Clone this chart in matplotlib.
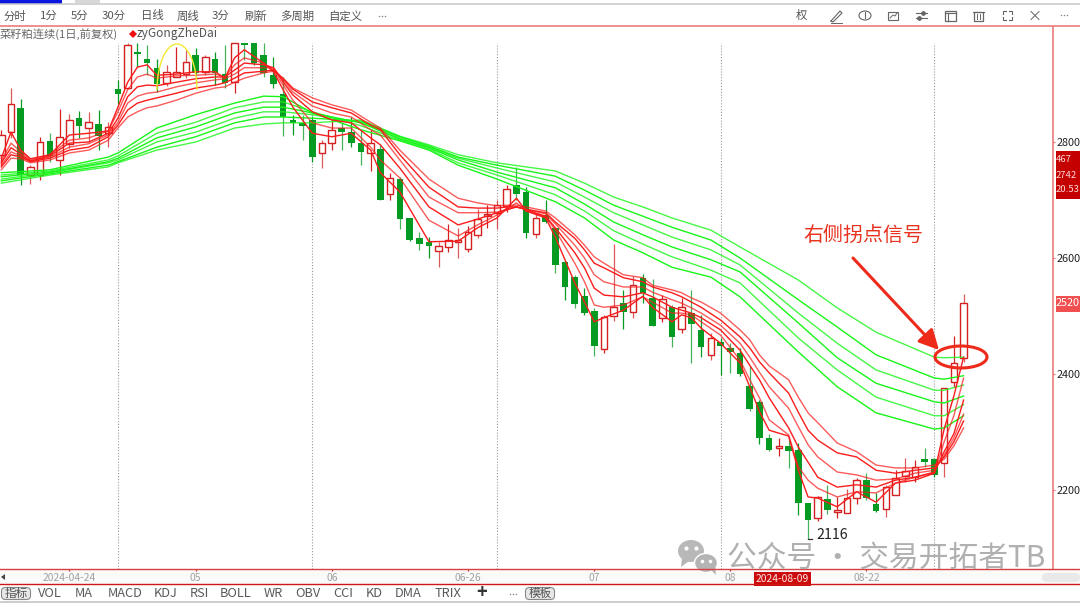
import matplotlib
matplotlib.use('Agg')
import matplotlib.pyplot as plt
from matplotlib.patches import Ellipse, Arc, Rectangle, FancyBboxPatch, Polygon

plt.rcParams['font.family'] = ['Noto Sans CJK SC', 'DejaVu Sans']

# daily candles
opens = [2778,2817,2859,2743,2743,2802,2769,2797,2841,2824,2831,2815,2891,2893,2955,2943,2928,2902,2912,2917,
         2950,2921,2943,2917,2903,2971,2971,2950,2915,2883,2838,2833,2838,2781,2798,2824,2817,2798,2781,2788,
         2710,2736,2669,2634,2628,2612,2619,2628,2615,2640,2672,2678,2690,2726,2714,2641,2674,2652,2593,2567,
         2534,2509,2443,2500,2522,2507,2566,2531,2497,2515,2478,2505,2476,2433,2455,2445,2436,2379,2352,2290,
         2272,2276,2269,2178,2152,2184,2162,2160,2186,2217,2176,2167,2191,2224,2222,2253,2253,2246,2386,2428]
closes = [2812,2866,2743,2757,2800,2776,2809,2838,2828,2834,2810,2826,2883,2967,2952,2936,2900,2921,2921,2938,
          2919,2947,2919,2902,2971,2967,2936,2919,2900,2843,2833,2828,2774,2798,2821,2817,2798,2783,2798,2700,
          2738,2667,2631,2624,2621,2621,2631,2631,2645,2667,2676,2691,2719,2710,2643,2669,2662,2588,2550,2521,
          2505,2448,2498,2516,2507,2553,2540,2483,2529,2464,2515,2486,2447,2462,2448,2438,2400,2340,2290,2269,
          2276,2267,2178,2148,2188,2165,2165,2186,2217,2186,2164,2205,2221,2233,2240,2248,2226,2376,2419,2522]
highs = [2821,2893,2874,2760,2809,2815,2857,2848,2853,2852,2855,2834,2907,2971,2971,2967,2943,2933,2964,2959,
         2962,2950,2955,2967,2971,2971,2971,2971,2947,2912,2847,2847,2845,2803,2838,2834,2843,2821,2821,2795,
         2747,2740,2669,2645,2636,2628,2659,2652,2655,2684,2691,2700,2726,2757,2722,2678,2700,2652,2597,2571,
         2548,2514,2502,2624,2545,2569,2572,2564,2536,2519,2531,2545,2502,2471,2462,2453,2445,2414,2355,2297,
         2290,2286,2281,2178,2190,2209,2188,2202,2221,2229,2195,2209,2234,2255,2252,2272,2255,2376,2466,2538]
lows = [2760,2807,2726,2728,2734,2766,2743,2790,2807,2800,2786,2791,2866,2891,2929,2915,2886,2897,2912,2910,
        2902,2915,2898,2893,2884,2941,2933,2912,2893,2810,2812,2803,2766,2755,2786,2786,2791,2760,2750,2700,
        2700,2650,2629,2614,2600,2584,2610,2600,2610,2634,2652,2650,2679,2700,2634,2634,2660,2574,2528,2514,
        2502,2431,2436,2491,2477,2497,2522,2483,2490,2447,2471,2419,2429,2424,2398,2402,2397,2336,2279,2267,
        2259,2238,2157,2116,2147,2159,2152,2160,2176,2183,2162,2153,2191,2214,2214,2240,2222,2222,2378,2421]

# short band, read at these candle numbers
red_idx = [0,1,2,3,5,7,9,11,12,13,14,15,16,18,20,22,23,24,25,27,28,29,30,32,34,36,38,39,41,44,
           47,49,51,52,53,54,56,57,59,60,61,62,64,66,67,69,70,71,72,74,76,77,78,79,81,82,83,84,86,88,
           90,92,94,96,97,98,99]
red1 = [2772,2817,2786,2771,2778,2812,2815,2819,2860,2903,2929,2933,2915,2917,2921,2921,2910,2945,2959,2936,
        2921,2890,2860,2815,2809,2815,2786,2747,2714,2628,2629,2652,2669,2686,2703,2681,2669,2636,2557,2524,
        2490,2497,2510,2534,2515,2490,2502,2497,2479,2453,2419,2378,2335,2303,2293,2234,2188,2186,2171,2197,
        2179,2212,2217,2229,2305,2362,2429]
red2 = [2767,2798,2783,2769,2778,2803,2807,2819,2852,2890,2912,2917,2910,2914,2915,2917,2912,2933,2945,2936,
        2924,2898,2872,2833,2824,2824,2791,2769,2738,2665,2638,2657,2674,2683,2695,2681,2671,2648,2591,2559,
        2519,2515,2519,2533,2524,2505,2505,2502,2490,2467,2424,2390,2359,2321,2295,2240,2217,2203,2188,2197,
        2195,2212,2222,2229,2283,2328,2393]
red3 = [2764,2790,2779,2767,2776,2798,2800,2815,2841,2878,2895,2898,2897,2903,2909,2912,2912,2924,2936,2933,
        2928,2903,2881,2852,2838,2833,2807,2795,2755,2688,2657,2667,2678,2683,2688,2683,2672,2652,2609,2583,
        2548,2536,2533,2540,2533,2515,2510,2505,2497,2476,2441,2415,2390,2359,2307,2274,2248,2222,2205,2209,
        2205,2217,2222,2231,2266,2297,2355]
red4 = [2760,2783,2776,2767,2774,2791,2797,2812,2834,2867,2879,2884,2886,2895,2902,2907,2909,2917,2928,2928,
        2928,2907,2886,2862,2850,2843,2821,2812,2769,2705,2678,2678,2679,2684,2688,2684,2676,2659,2622,2600,
        2571,2559,2550,2550,2541,2528,2522,2514,2505,2484,2453,2429,2403,2378,2341,2309,2278,2257,2231,2226,
        2217,2219,2229,2234,2260,2290,2331]
red5 = [2757,2778,2774,2766,2772,2786,2791,2809,2829,2855,2867,2872,2876,2884,2893,2898,2902,2910,2919,2922,
        2924,2909,2891,2869,2859,2850,2829,2821,2778,2722,2688,2686,2686,2688,2688,2684,2678,2662,2634,2614,
        2591,2583,2566,2559,2550,2540,2533,2524,2515,2493,2464,2445,2421,2402,2367,2334,2303,2286,2264,2257,
        2234,2229,2234,2238,2257,2283,2319]
red6 = [2752,2772,2771,2764,2769,2781,2786,2803,2824,2843,2852,2859,2862,2872,2884,2893,2895,2903,2910,2919,
        2922,2910,2893,2876,2864,2855,2834,2824,2786,2736,2703,2695,2690,2691,2691,2688,2681,2669,2640,2622,
        2602,2591,2571,2566,2553,2545,2540,2531,2524,2505,2476,2459,2433,2414,2390,2360,2333,2316,2281,2266,
        2243,2238,2238,2243,2253,2276,2307]

# long band
green_idx = [0,5,11,12,16,20,24,27,29,32,37,41,44,47,51,57,60,63,66,69,73,76,82,86,90,96,97,99]
green1 = [2747,2752,2774,2781,2824,2847,2867,2879,2878,2850,2821,2802,2786,2760,2736,2697,2669,2631,2609,2584,2567,2533,2438,2378,2333,2305,2307,2328]
green2 = [2743,2750,2769,2776,2815,2834,2859,2869,2869,2852,2828,2803,2788,2764,2743,2709,2681,2647,2624,2602,2579,2557,2462,2407,2360,2328,2328,2347]
green3 = [2740,2748,2766,2772,2807,2826,2850,2860,2860,2850,2833,2805,2790,2769,2748,2721,2693,2662,2640,2619,2597,2576,2488,2428,2384,2352,2350,2362]
green4 = [2736,2747,2764,2769,2800,2817,2841,2852,2852,2847,2834,2807,2791,2772,2755,2731,2705,2678,2657,2636,2614,2588,2505,2453,2407,2372,2372,2381]
green5 = [2733,2745,2760,2766,2791,2809,2833,2843,2843,2841,2836,2809,2793,2774,2760,2741,2717,2691,2672,2653,2631,2600,2528,2481,2433,2393,2391,2397]
green6 = [2729,2743,2757,2764,2786,2800,2824,2831,2833,2833,2838,2810,2795,2778,2764,2750,2729,2705,2688,2669,2648,2619,2562,2514,2472,2429,2428,2429]

y_ticks = [2200, 2400, 2600, 2800]
x_ticks = [7, 20, 34, 48, 61, 75, 89]
x_labels = ['2024-04-24', '05', '06', '06-26', '07', '08', '08-22']
month_lines = [12, 32, 51, 74, 96]
low_idx = 83
low_val = 2116
last_close = 2520
info_box = ['467', '2742', '20.53']

tool_names = ['分时', '1分', '5分', '30分', '日线', '周线', '3分', '刷新', '多周期', '自定义']
tool_pos = [15, 49, 80, 114, 152, 188, 221, 256, 297, 345]
ind_names = ['VOL', 'MA', 'MACD', 'KDJ', 'RSI', 'BOLL', 'WR', 'OBV', 'CCI', 'KD', 'DMA', 'TRIX']
ind_pos = [50, 84, 125, 166, 199, 236, 273, 308, 343, 374, 408, 448]

W, H = 1080, 603
UP = '#d42020'
DOWN = '#059a22'
PINK = '#e87070'

fig = plt.figure(figsize=(W / 100, H / 100), dpi=100, facecolor='white')

# date strip goes under the tick labels
fig.add_artist(Rectangle((0, (H - 584) / H), 1, 14.5 / H, transform=fig.transFigure, fc='#fafafa', ec='none', zorder=0))

# main chart
ax = fig.add_axes([0, (H - 569) / H, 1053 / W, (569 - 27) / H])
ax.set_xlim(-0.134, 108.2)
ax.set_ylim(2063.8, 2998.2)
ax.patch.set_alpha(0)

for m in month_lines:
    ax.plot([m, m], [2063.8, 2971], color='#999999', lw=0.8, ls=(0, (1, 1.6)), zorder=0)

for i in range(len(opens)):
    up = closes[i] >= opens[i]
    col = UP if up else DOWN
    # some wicks look paler in the screenshot
    ax.plot([i, i], [lows[i], highs[i]], color=col, lw=0.9, alpha=0.75 if i % 2 else 1, zorder=1,
            solid_capstyle='butt')
    ax.bar(i, abs(closes[i] - opens[i]), bottom=min(opens[i], closes[i]), width=0.68,
           facecolor='white' if up else DOWN, edgecolor=col if up else DOWN, lw=1.0 if up else 0, zorder=2)

for k, g in enumerate([green1, green2, green3, green4, green5, green6]):
    ax.plot(green_idx, g, color='#18f518', lw=1.0, alpha=0.8 if k % 2 else 1, zorder=3)
for k, r in enumerate([red1, red2, red3, red4, red5, red6]):
    ax.plot(red_idx, r, color='#fb1c1c', lw=1.0, alpha=0.72 if k % 2 else 1, zorder=4)

ax.plot([low_idx, low_idx + 0.4], [low_val, low_val], color='#333333', lw=0.9, zorder=5)
ax.text(low_idx + 0.85, low_val + 6, str(low_val), fontsize=10.3, color='#222222', va='center', ha='left', zorder=5)

ax.yaxis.tick_right()
ax.set_yticks(y_ticks)
ax.set_yticklabels([str(v) for v in y_ticks], fontsize=7.8, color='#222222')
ax.tick_params(axis='y', length=1.6, width=0.8, color=PINK, pad=0.8)
ax.set_xticks(x_ticks)
ax.set_xticklabels(x_labels, fontsize=7.4, color='#a0a0a0')
ax.tick_params(axis='x', length=1.6, width=0.8, color=UP, pad=1.5)
for s in ['top', 'left', 'bottom']:
    ax.spines[s].set_visible(False)
ax.spines['right'].set_color(PINK)
ax.spines['right'].set_linewidth(1.1)

# window furniture in pixel coordinates
ov = fig.add_axes([0, 0, 1, 1])
ov.set_xlim(0, W)
ov.set_ylim(H, 0)
ov.axis('off')
ov.patch.set_alpha(0)
ax.set_zorder(2)
ov.set_zorder(3)


def dots(px, py):
    ov.plot([px - 3, px, px + 3], [py, py, py], ls='none', marker='o', ms=1.1, mew=0, color='#888888')


ov.add_patch(Rectangle((0, 0), 62, 3.5, fc='#0a18e0', ec='none'))
ov.add_patch(Rectangle((75, 0), 25, 3, fc='#d8d8d8', ec='none'))
ov.plot([0, W], [4.3, 4.3], color='#c8c8c8', lw=1.1)
ov.plot([0, W], [26, 26], color=PINK, lw=1.1)
ov.plot([0, W], [569, 569], color='#d84040', lw=1.0)
ov.plot([0, W], [584, 584], color='#d01515', lw=1.0)
ov.plot([0, W], [601.5, 601.5], color='#c0c0c0', lw=1.1)
ov.add_patch(Polygon([[1, 577], [5, 574], [5, 580]], fc='#444444', ec='none'))

for name, px in zip(tool_names, tool_pos):
    ov.text(px, 16, name, fontsize=8.2, color='#555555', ha='center', va='center')
dots(382, 16)
ov.text(0, 34, '菜籽粕连续(1日,前复权)', fontsize=8.1, color='#666666', ha='left', va='center')
ov.plot([132.5], [34], marker='D', ms=3.6, color='#f01010', mew=0)
ov.text(137, 34, 'zyGongZheDai', fontsize=8.6, color='#555555', ha='left', va='center')

# right hand icons
ic = '#666666'
ov.text(801, 15.5, '权', fontsize=8.2, color='#555555', ha='center', va='center')
ov.plot([831, 840, 842, 833, 831], [21, 11, 13, 22, 21], color=ic, lw=0.8)
ov.plot([831, 842], [22.5, 22.5], color=ic, lw=0.7)
ov.add_patch(Ellipse((865, 15.5), 12, 9, fc='none', ec=ic, lw=0.8))
ov.plot([865, 865], [12, 18], color=ic, lw=0.8)
ov.add_patch(Rectangle((888, 12), 10, 8, fc='none', ec=ic, lw=0.8))
ov.plot([890, 893, 895, 897], [18, 15, 16, 13], color=ic, lw=0.7)
for yy, dot in [(12.5, 923), (17.5, 919)]:
    ov.plot([916, 927], [yy, yy], color=ic, lw=0.8)
    ov.plot([dot], [yy], marker='o', ms=2.4, color=ic)
ov.add_patch(Rectangle((944.5, 10.5), 11, 10, fc='none', ec=ic, lw=0.9))
ov.plot([944.5, 955.5], [13, 13], color=ic, lw=0.8)
ov.plot([948, 948], [13, 20.5], color=ic, lw=0.8)
ov.add_patch(Rectangle((974, 12), 8.5, 9, fc='none', ec=ic, lw=0.9))
ov.plot([973, 984], [11.5, 11.5], color=ic, lw=0.8)
ov.plot([976.5, 976.5], [14, 19], color=ic, lw=0.7)
ov.plot([979.5, 979.5], [14, 19], color=ic, lw=0.7)
for cx, cy, dx, dy in [(1002.5, 11, 1, 1), (1011.5, 11, -1, 1), (1002.5, 19.5, 1, -1), (1011.5, 19.5, -1, -1)]:
    ov.plot([cx + 3 * dx, cx, cx], [cy, cy, cy + 3 * dy], color=ic, lw=0.8)
ov.plot([1031, 1039], [11.5, 19.5], color=ic, lw=0.7)
ov.plot([1031, 1039], [19.5, 11.5], color=ic, lw=0.7)
dots(1063.5, 15)

# bottom row
for bx, txt in [(1.5, '指标'), (525.5, '模板')]:
    ov.add_patch(FancyBboxPatch((bx, 587.5), 29, 12, boxstyle='round,pad=0,rounding_size=4',
                                fc='#e8e8e8', ec='#888888', lw=0.8))
    ov.text(bx + 14.5, 593.5, txt, fontsize=8.4, color='#555555', ha='center', va='center')
for name, px in zip(ind_names, ind_pos):
    ov.text(px, 593.5, name, fontsize=9.2, color='#5a5a5a', ha='center', va='center')
ov.text(482, 593, '+', fontsize=13, color='#333333', ha='center', va='center', fontweight='bold')
dots(513, 593.5)

# date flag and scrollbar
ov.add_patch(Rectangle((754, 572), 57, 14, fc='#cc0c0c', ec='none'))
ov.text(782.5, 579, '2024-08-09', fontsize=7.4, color='#ffe8e8', ha='center', va='center')
ov.add_patch(FancyBboxPatch((1042, 573), 38, 9, boxstyle='round,pad=0,rounding_size=4.5', fc='#e9e9e9', ec='none'))

# price boxes on the right
ov.add_patch(Rectangle((1056, 151), 24, 48, fc='#c40000', ec='none'))
for txt, yy in zip(info_box, [160, 175, 190]):
    ov.text(1056, yy, txt, fontsize=6.8, color='#ffd8d8', ha='left', va='center')
ov.add_patch(Rectangle((1056, 296), 24, 16, fc='#f25050', ec='none'))
ov.text(1068, 303.5, str(last_close), fontsize=7.8, color='white', ha='center', va='center')

# hand drawn marks
ov.add_patch(Arc((177, 90), 40, 92, theta1=180, theta2=360, ec='#f4e830', lw=1.0))
ov.add_patch(Ellipse((961, 357), 52, 22, fc='none', ec='#ee2a1a', lw=2.2))
ov.annotate('', xy=(939, 350), xytext=(853, 258),
            arrowprops=dict(arrowstyle='-|>,head_length=0.75,head_width=0.38', color='#ee2a1a', lw=2.2,
                            mutation_scale=16, shrinkA=0, shrinkB=0))
ov.text(803, 235, '右侧拐点信号', fontsize=14.4, color='#e8321e', ha='left', va='center')

# watermark
wm = '#b4b4b4'
ov.add_patch(Ellipse((691, 551), 26, 22, fc=wm, ec='none', alpha=0.95))
ov.add_patch(Polygon([[682, 559], [681, 567], [689, 561]], fc=wm, ec='none'))
ov.add_patch(Ellipse((706, 563), 23, 19, fc=wm, ec='white', lw=1.0))
ov.add_patch(Polygon([[711, 570], [716, 575], [715, 566]], fc=wm, ec='none'))
for ex, ey, es in [(686, 548, 3), (696, 548, 3), (702, 561, 2.6), (710, 561, 2.6)]:
    ov.plot([ex], [ey], marker='o', ms=es, color='white', mew=0)
ov.text(727, 558, '公众号 · 交易开拓者TB', fontsize=21.4, color='#a8a8a8', alpha=0.9, ha='left', va='center')

fig.savefig('out.png', dpi=100)
